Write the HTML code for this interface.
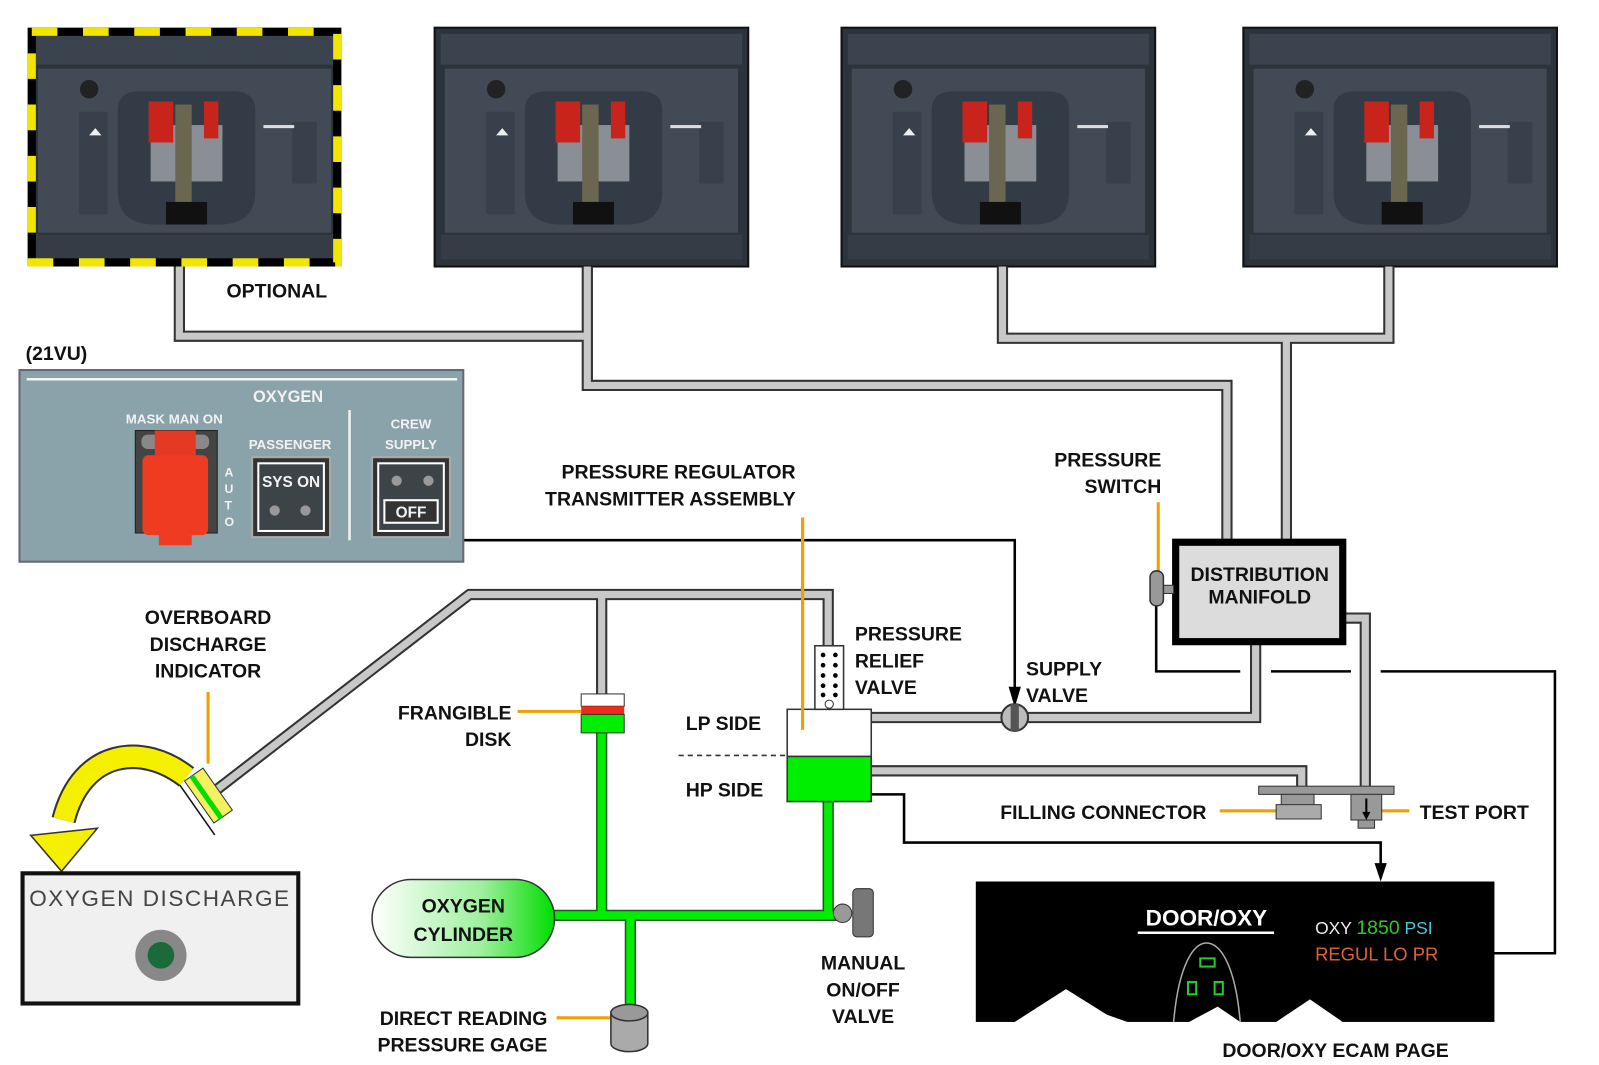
<!DOCTYPE html>
<html><head><meta charset="utf-8"><style>
html,body{margin:0;padding:0;background:#fff;}
svg{display:block;}
text{font-family:"Liberation Sans",Arial,sans-serif;}
.lb{font-weight:bold;font-size:19px;fill:#111;}
.po{fill:none;stroke:#333;stroke-width:11;stroke-linejoin:miter;}
.pi{fill:none;stroke:#c8c8c8;stroke-width:7;stroke-linejoin:miter;}
.go{fill:none;stroke:#1a5a1a;stroke-width:11;}
.gi{fill:none;stroke:#00ee00;stroke-width:8;}
.el{fill:none;stroke:#000;stroke-width:2.5;}
.or{fill:none;stroke:#f0a000;stroke-width:3;}
</style></head><body>
<svg width="1599" height="1065" viewBox="0 0 1560 1039" xmlns="http://www.w3.org/2000/svg">
<defs>
<symbol id="ph" viewBox="0 0 306 233">
<rect x="0" y="0" width="306" height="233" fill="#2c333b"/>
<rect x="6" y="6" width="294" height="30" fill="#3b444e"/>
<rect x="10" y="40" width="286" height="160" fill="#414a55"/>
<rect x="50" y="82" width="28" height="100" fill="#38414b"/>
<rect x="258" y="92" width="24" height="60" fill="#38414b"/>
<circle cx="60" cy="60" r="9" fill="#222"/>
<path d="M88 80 Q88 62 110 62 L200 62 Q222 62 222 80 L222 160 Q222 190 190 192 L120 192 Q88 190 88 160 Z" fill="#333c46"/>
<rect x="120" y="95" width="70" height="55" fill="#8a8f95"/>
<rect x="118" y="72" width="24" height="40" fill="#c8241c"/>
<rect x="172" y="72" width="14" height="36" fill="#c8241c"/>
<rect x="144" y="75" width="16" height="110" fill="#6b6650"/>
<rect x="135" y="170" width="40" height="22" fill="#111"/>
<rect x="6" y="202" width="294" height="24" fill="#353c45"/>
<polygon points="60,105 66,98 72,105" fill="#eee"/>
<rect x="230" y="95" width="30" height="3" fill="#ddd"/>
</symbol>
</defs>

<!-- photos -->
<use href="#ph" x="27" y="27" width="306" height="233"/>
<rect x="31" y="31" width="298" height="225" fill="none" stroke="#000" stroke-width="8"/>
<rect x="31" y="31" width="298" height="225" fill="none" stroke="#f2e600" stroke-width="8" stroke-dasharray="25 25"/>
<use href="#ph" x="424" y="27" width="306" height="233"/>
<rect x="424" y="27" width="306" height="233" fill="none" stroke="#111" stroke-width="2"/>
<use href="#ph" x="821" y="27" width="306" height="233"/>
<rect x="821" y="27" width="306" height="233" fill="none" stroke="#111" stroke-width="2"/>
<use href="#ph" x="1213" y="27" width="306" height="233"/>
<rect x="1213" y="27" width="306" height="233" fill="none" stroke="#111" stroke-width="2"/>

<!-- gray pipes -->
<g>
<path class="po" d="M175 260 V328 H573 M573 260 V376 H1197 V527 M978 260 V330 H1355 V260 M1255 330 V527"/>
<path class="po" d="M1225 628 V700 H848 M1312 603 H1332 V770 M850 752 H1270 V770 M808 690 V580 H458 L212 770 M587 580 V678"/>
<path class="pi" d="M175 260 V328 H573 M573 260 V376 H1197 V527 M978 260 V330 H1355 V260 M1255 330 V527"/>
<path class="pi" d="M1225 628 V700 H848 M1312 603 H1332 V770 M850 752 H1270 V770 M808 690 V580 H458 L212 770 M587 580 V678"/>
</g>

<!-- green pipes -->
<path class="go" d="M587 710 V893 M808 780 V893 M540 893 H822 M615 893 V985"/>
<path class="gi" d="M587 710 V893 M808 780 V893 M540 893 H822 M615 893 V985"/>

<!-- electrical lines -->
<path class="el" d="M452 527 H990 V682"/>
<polygon points="984,670 996,670 990,690" fill="#000"/>
<path class="el" d="M1128 590 V655 H1210 M1240 655 H1318 M1347 655 H1517 V930 H1438"/>
<polygon points="1440,924 1440,936 1420,930" fill="#000"/>
<path class="el" d="M850 775 H882 V822 H1347 V845"/>
<polygon points="1341,842 1353,842 1347,860" fill="#000"/>

<!-- orange leaders -->
<path class="or" d="M783 505 V710 M1130 490 V557 M203 675 V745 M505 694 H568 M1190 791 H1245 M1345 791 H1375 M543 993 H597"/>

<!-- manifold -->
<rect x="1147" y="529" width="163" height="97" fill="#dcdcdc" stroke="#000" stroke-width="7"/>
<text class="lb" x="1229" y="567" text-anchor="middle" font-size="17">DISTRIBUTION</text>
<text class="lb" x="1229" y="589" text-anchor="middle" font-size="17">MANIFOLD</text>
<rect x="1133" y="571" width="12" height="8" fill="#999" stroke="#333"/>
<rect x="1122" y="557" width="13" height="34" rx="6" fill="#999" stroke="#333" stroke-width="1.5"/>

<!-- filling connector / test port -->
<rect x="1228" y="767" width="132" height="8" fill="#999" stroke="#333"/>
<rect x="1250" y="775" width="32" height="20" fill="#999" stroke="#333"/>
<rect x="1245" y="785" width="44" height="14" fill="#aaa" stroke="#333"/>
<rect x="1318" y="775" width="30" height="25" fill="#999" stroke="#333"/>
<rect x="1325" y="800" width="16" height="8" fill="#999" stroke="#333"/>
<path d="M1333 779 V796" stroke="#000" stroke-width="2"/>
<polygon points="1329,792 1337,792 1333,800" fill="#000"/>

<!-- regulator -->
<rect x="768" y="692" width="82" height="46" fill="#fff" stroke="#333" stroke-width="1.5"/>
<rect x="768" y="738" width="82" height="44" fill="#00ee00" stroke="#333" stroke-width="1.5"/>
<path d="M662 737 H768" stroke="#333" stroke-width="1.5" stroke-dasharray="5 4"/>
<rect x="795" y="630" width="28" height="62" fill="#fff" stroke="#333" stroke-width="1.5"/>
<g fill="#000">
<circle cx="803" cy="639" r="2.3"/><circle cx="815" cy="639" r="2.3"/>
<circle cx="803" cy="649" r="2.3"/><circle cx="815" cy="649" r="2.3"/>
<circle cx="803" cy="659" r="2.3"/><circle cx="815" cy="659" r="2.3"/>
<circle cx="803" cy="669" r="2.3"/><circle cx="815" cy="669" r="2.3"/>
<circle cx="803" cy="678" r="2.3"/><circle cx="815" cy="678" r="2.3"/>
</g>
<circle cx="809" cy="687" r="4" fill="#fff" stroke="#333"/>
<path class="or" d="M783 505 V712"/>

<!-- frangible disk -->
<rect x="567" y="677" width="42" height="12" fill="#fff" stroke="#333"/>
<rect x="567" y="689" width="42" height="8" fill="#ee2a1a"/>
<rect x="567" y="697" width="42" height="18" fill="#00ee00" stroke="#333"/>

<!-- supply valve -->
<circle cx="990" cy="700" r="13" fill="#bbb" stroke="#333" stroke-width="2"/>
<rect x="986" y="687" width="8" height="26" fill="#555"/>

<!-- manual valve -->
<circle cx="822" cy="891" r="9" fill="#999" stroke="#333"/>
<rect x="832" y="867" width="20" height="47" rx="4" fill="#777" stroke="#333"/>

<!-- gage -->
<path d="M596 988 a18 8 0 0 1 36 0 V1018 a18 8 0 0 1 -36 0 Z" fill="#aaa" stroke="#333" stroke-width="1.5"/>
<ellipse cx="614" cy="988" rx="18" ry="8" fill="#999" stroke="#333" stroke-width="1.5"/>

<!-- cylinder -->
<defs><linearGradient id="cg" x1="0" x2="1"><stop offset="0" stop-color="#fff"/><stop offset="0.6" stop-color="#9ef09e"/><stop offset="1" stop-color="#00dd00"/></linearGradient></defs>
<rect x="363" y="858" width="178" height="76" rx="38" fill="url(#cg)" stroke="#333" stroke-width="1.5"/>
<text class="lb" x="452" y="890" text-anchor="middle" font-size="22">OXYGEN</text>
<text class="lb" x="452" y="918" text-anchor="middle" font-size="22">CYLINDER</text>

<!-- overboard indicator -->
<g transform="rotate(-35 205 775)">
<rect x="192" y="750" width="22" height="50" fill="#f5f060" stroke="#333"/>
<rect x="198" y="750" width="5" height="50" fill="#00dd00"/>
<path d="M186 740 V810" stroke="#111" stroke-width="1.5"/>
</g>
<!-- yellow arrow -->
<path d="M182 758 C140 725 80 730 62 800" fill="none" stroke="#333" stroke-width="24"/>
<path d="M182 758 C140 725 80 730 62 800" fill="none" stroke="#f5f000" stroke-width="20"/>
<polygon points="30,815 95,808 60,850" fill="#f5f000" stroke="#333" stroke-width="1.5"/>

<!-- oxygen discharge -->
<rect x="22" y="852" width="269" height="127" fill="#f0f0f0" stroke="#111" stroke-width="4"/>
<text x="156" y="884" text-anchor="middle" font-size="22" fill="#444" letter-spacing="1.5">OXYGEN  DISCHARGE</text>
<circle cx="157" cy="932" r="25" fill="#888"/>
<circle cx="157" cy="932" r="13" fill="#1a6a3a"/>

<!-- panel 21VU -->
<text class="lb" x="25" y="351">(21VU)</text>
<rect x="19" y="361" width="433" height="187" fill="#8aa2aa" stroke="#667" stroke-width="2"/>
<path d="M26 370 H446" stroke="#f5f5f5" stroke-width="2.5"/>
<text x="281" y="392" text-anchor="middle" font-size="16" font-weight="bold" fill="#f2f2f2">OXYGEN</text>
<text x="170" y="413" text-anchor="middle" font-size="13" font-weight="bold" fill="#f2f2f2">MASK MAN ON</text>
<rect x="132" y="420" width="80" height="100" fill="#444" stroke="#222"/>
<rect x="138" y="424" width="66" height="14" rx="6" fill="#888"/>
<rect x="151" y="420" width="40" height="30" fill="#e43a24"/>
<rect x="139" y="444" width="64" height="78" rx="6" fill="#ee3b22"/>
<rect x="155" y="518" width="32" height="14" fill="#ee3b22"/>
<text x="219" y="465" font-size="12" font-weight="bold" fill="#f2f2f2">A</text>
<text x="219" y="481" font-size="12" font-weight="bold" fill="#f2f2f2">U</text>
<text x="219" y="497" font-size="12" font-weight="bold" fill="#f2f2f2">T</text>
<text x="219" y="513" font-size="12" font-weight="bold" fill="#f2f2f2">O</text>
<text x="283" y="438" text-anchor="middle" font-size="13" font-weight="bold" fill="#f2f2f2">PASSENGER</text>
<rect x="246" y="446" width="76" height="78" fill="#333" stroke="#aaa" stroke-width="2"/>
<rect x="252" y="452" width="64" height="66" fill="#3d4448" stroke="#fff" stroke-width="2"/>
<text x="284" y="475" text-anchor="middle" font-size="15" font-weight="bold" fill="#f2f2f2">SYS ON</text>
<circle cx="268" cy="498" r="5" fill="#999"/><circle cx="298" cy="498" r="5" fill="#999"/>
<path d="M341 400 V527" stroke="#f2f2f2" stroke-width="2.5"/>
<text x="401" y="418" text-anchor="middle" font-size="13" font-weight="bold" fill="#f2f2f2">CREW</text>
<text x="401" y="438" text-anchor="middle" font-size="13" font-weight="bold" fill="#f2f2f2">SUPPLY</text>
<rect x="363" y="446" width="76" height="78" fill="#333" stroke="#aaa" stroke-width="2"/>
<rect x="369" y="452" width="64" height="66" fill="#3d4448" stroke="#fff" stroke-width="2"/>
<circle cx="387" cy="469" r="5" fill="#999"/><circle cx="418" cy="469" r="5" fill="#999"/>
<rect x="375" y="488" width="52" height="22" fill="#333" stroke="#fff" stroke-width="2"/>
<text x="401" y="505" text-anchor="middle" font-size="15" font-weight="bold" fill="#f2f2f2">OFF</text>

<!-- ECAM -->
<rect x="952" y="860" width="506" height="137" fill="#000"/>
<polygon points="990,997 1040,965 1080,990 1100,997" fill="#fff"/>
<polygon points="1160,997 1188,982 1210,997" fill="#fff"/>
<polygon points="1245,997 1278,975 1310,997" fill="#fff"/>
<text x="1177" y="903" text-anchor="middle" font-size="22" font-weight="bold" fill="#fff">DOOR/OXY</text>
<path d="M1110 910 H1243" stroke="#fff" stroke-width="2.5"/>
<path d="M1145 997 C1150 940 1165 920 1177 920 C1190 920 1205 940 1210 997" fill="none" stroke="#aaa" stroke-width="1.5"/>
<rect x="1171" y="935" width="14" height="8" fill="none" stroke="#2c2" stroke-width="2"/>
<rect x="1159" y="958" width="8" height="12" fill="none" stroke="#2c2" stroke-width="2"/>
<rect x="1185" y="958" width="8" height="12" fill="none" stroke="#2c2" stroke-width="2"/>
<text x="1283" y="911" font-size="17" fill="#eee">OXY <tspan fill="#2ec52e" font-size="19">1850</tspan> <tspan fill="#4cc8d8">PSI</tspan></text>
<text x="1283" y="937" font-size="18" fill="#e0603a">REGUL LO PR</text>

<!-- labels -->
<text class="lb" x="221" y="290">OPTIONAL</text>
<text class="lb" x="662" y="467" text-anchor="middle">PRESSURE REGULATOR</text>
<text class="lb" x="654" y="493" text-anchor="middle">TRANSMITTER ASSEMBLY</text>
<text class="lb" x="1133" y="455" text-anchor="end">PRESSURE</text>
<text class="lb" x="1133" y="481" text-anchor="end">SWITCH</text>
<text class="lb" x="203" y="609" text-anchor="middle">OVERBOARD</text>
<text class="lb" x="203" y="635" text-anchor="middle">DISCHARGE</text>
<text class="lb" x="203" y="661" text-anchor="middle">INDICATOR</text>
<text class="lb" x="834" y="625">PRESSURE</text>
<text class="lb" x="834" y="651">RELIEF</text>
<text class="lb" x="834" y="677">VALVE</text>
<text class="lb" x="1001" y="659">SUPPLY</text>
<text class="lb" x="1001" y="685">VALVE</text>
<text class="lb" x="499" y="702" text-anchor="end">FRANGIBLE</text>
<text class="lb" x="499" y="728" text-anchor="end">DISK</text>
<text class="lb" x="669" y="712">LP SIDE</text>
<text class="lb" x="669" y="777">HP SIDE</text>
<text class="lb" x="1177" y="799" text-anchor="end">FILLING CONNECTOR</text>
<text class="lb" x="1385" y="799">TEST PORT</text>
<text class="lb" x="842" y="946" text-anchor="middle">MANUAL</text>
<text class="lb" x="842" y="972" text-anchor="middle">ON/OFF</text>
<text class="lb" x="842" y="998" text-anchor="middle">VALVE</text>
<text class="lb" x="534" y="1000" text-anchor="end">DIRECT READING</text>
<text class="lb" x="534" y="1026" text-anchor="end">PRESSURE GAGE</text>
<text class="lb" x="1303" y="1031" text-anchor="middle">DOOR/OXY ECAM PAGE</text>
</svg>
</body></html>
